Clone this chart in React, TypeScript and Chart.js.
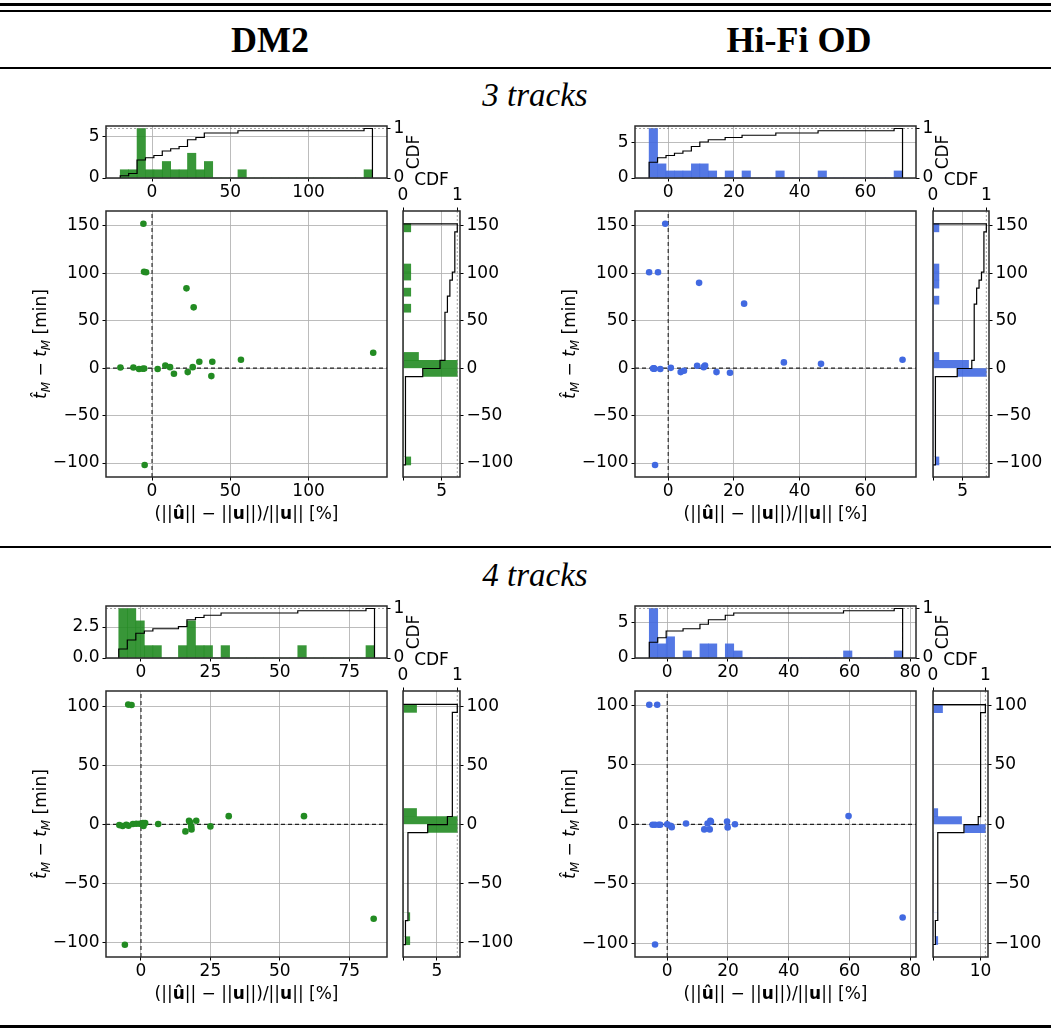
import React, { useEffect, useRef } from 'react';
import { Chart, registerables } from 'chart.js';

Chart.register(...registerables);

/* ====================== DATA ====================== */
// ---- DM2, 3 tracks ----
const DM2_3_X = [-20.2, -11.9, -8.3, -6.0, -5.0, -5.5, -5.1, -3.8, -4.7, 3.6, 8.5, 11.5, 14.0, 22.0, 22.8, 26.0, 26.6, 30.2, 37.9, 38.5, 56.8, 141.3];
const DM2_3_Y = [0.7, 0.7, -1.0, -0.7, -0.5, 152.0, 101.4, 101.0, -102.0, -1.0, 2.8, 1.0, -6.0, 84.0, -4.2, 1.0, 64.0, 6.7, -8.4, 6.7, 8.8, 16.2];
const DM2_3_X_RANGE = [-29.4, 150.1];
const DM2_3_X_TICKS = [0, 50, 100];
const DM2_3_TOP_BINS = [-20.3, 140.8];
const DM2_3_TOP_COUNTS = [1, 1, 6, 1, 1, 2, 1, 1, 3, 1, 2, 0, 0, 0, 1, 0, 0, 0, 0, 0, 0, 0, 0, 0, 0, 0, 0, 0, 0, 1];
const DM2_3_TOP_MAX = 6.3;
const DM2_3_TOP_TICKS = [0, 5];
const DM2_3_TOP_LABELS = ['0', '5'];
const DM2_3_RIGHT_BINS = [-102, 152];
const DM2_3_RIGHT_COUNTS = [1, 0, 0, 0, 0, 0, 0, 0, 0, 0, 0, 7, 7, 2, 0, 0, 0, 0, 0, 1, 0, 1, 0, 1, 1, 0, 0, 0, 0, 1];
const DM2_3_RIGHT_MAX = 7.35;
const DM2_3_RIGHT_TICKS = [0, 5];
const DM2_3_RIGHT_LABELS = ['', '5'];

// ---- Hi-Fi OD, 3 tracks ----
const HIFI_3_X = [-5.8, -3.1, -0.9, 9.4, 23.1, -4.4, -4.3, -2.4, -4.0, 0.8, 3.8, 4.8, 8.8, 10.8, 11.2, 14.7, 18.8, 35.2, 46.5, 71.3, -4.6, -4.2];
const HIFI_3_Y = [101.0, 101.0, 152.0, 89.8, 67.9, -0.3, -0.5, -1.0, -102.0, 0.3, -4.2, -2.8, 2.5, 1.0, 2.8, -4.2, -4.9, 6.0, 4.5, 8.8, -0.4, -0.6];
const HIFI_3_X_RANGE = [-10.1, 75.4];
const HIFI_3_X_TICKS = [0, 20, 40, 60];
const HIFI_3_TOP_BINS = [-5.8, 71.3];
const HIFI_3_TOP_COUNTS = [7, 2, 1, 1, 1, 2, 2, 1, 0, 1, 0, 1, 0, 0, 0, 1, 0, 0, 0, 0, 1, 0, 0, 0, 0, 0, 0, 0, 0, 1];
const HIFI_3_TOP_MAX = 7.35;
const HIFI_3_TOP_TICKS = [0, 5];
const HIFI_3_TOP_LABELS = ['0', '5'];
const HIFI_3_RIGHT_BINS = [-102, 152];
const HIFI_3_RIGHT_COUNTS = [1, 0, 0, 0, 0, 0, 0, 0, 0, 0, 0, 9, 6, 1, 0, 0, 0, 0, 0, 0, 1, 0, 1, 1, 1, 0, 0, 0, 0, 1];
const HIFI_3_RIGHT_MAX = 9.45;
const HIFI_3_RIGHT_TICKS = [0, 5];
const HIFI_3_RIGHT_LABELS = ['', '5'];

const Y_RANGE_3 = [-114.7, 165.5];
const Y_TICKS_3 = [-100, -50, 0, 50, 100, 150];

// ---- DM2, 4 tracks ----
const DM2_4_X = [-4.6, -3.4, -5.8, -7.8, -6.6, -5.3, -4.5, -2.9, -1.7, -0.5, 0.7, 0.9, 1.5, 6.2, 16.0, 17.3, 17.6, 18.2, 18.1, 19.9, 25.0, 31.6, 58.7, 83.8];
const DM2_4_Y = [101.4, 101.0, -101.8, -0.6, -1.4, -0.3, -1.1, 0.3, 0.6, 0.6, 1.1, -1.4, 1.1, 0.3, -5.9, 3.1, 2.0, -4.2, -1.7, 3.1, -1.7, 7.0, 7.0, -79.8];
const DM2_4_X_RANGE = [-12.6, 88.6];
const DM2_4_Y_RANGE = [-112.2, 112.9];
const DM2_4_X_TICKS = [0, 25, 50, 75];
const DM2_4_TOP_BINS = [-8.0, 84.1];
const DM2_4_TOP_COUNTS = [4, 4, 3, 1, 1, 0, 0, 1, 3, 1, 1, 0, 1, 0, 0, 0, 0, 0, 0, 0, 0, 1, 0, 0, 0, 0, 0, 0, 0, 1];
const DM2_4_TOP_MAX = 4.2;
const DM2_4_TOP_TICKS = [0, 2.5];
const DM2_4_TOP_LABELS = ['0.0', '2.5'];
const DM2_4_RIGHT_BINS = [-101.8, 101.6];
const DM2_4_RIGHT_COUNTS = [1, 0, 0, 1, 0, 0, 0, 0, 0, 0, 0, 0, 0, 0, 8, 8, 2, 0, 0, 0, 0, 0, 0, 0, 0, 0, 0, 0, 0, 2];
const DM2_4_RIGHT_MAX = 8.4;
const DM2_4_RIGHT_TICKS = [0, 5];
const DM2_4_RIGHT_LABELS = ['', '5'];

// ---- Hi-Fi OD, 4 tracks ----
const HIFI_4_X = [-5.9, -3.3, -4.0, -4.8, -4.0, -2.8, -2.3, 0.0, 1.1, 1.5, 6.2, 12.2, 13.3, 14.0, 14.2, 14.4, 19.7, 19.9, 22.3, 59.7, 77.5];
const HIFI_4_Y = [100.5, 100.5, -100.8, -0.3, -0.3, -0.3, -0.3, 0.2, -1.2, -2.3, 0.8, -4.2, 0.8, -4.2, 3.0, 2.2, 2.5, -2.5, 0.2, 7.0, -78.2];
const HIFI_4_X_RANGE = [-10.6, 81.9];
const HIFI_4_Y_RANGE = [-111.3, 112.0];
const HIFI_4_X_TICKS = [0, 20, 40, 60, 80];
const HIFI_4_TOP_BINS = [-5.9, 77.5];
const HIFI_4_TOP_COUNTS = [7, 2, 3, 0, 1, 0, 2, 2, 0, 2, 1, 0, 0, 0, 0, 0, 0, 0, 0, 0, 0, 0, 0, 1, 0, 0, 0, 0, 0, 1];
const HIFI_4_TOP_MAX = 7.35;
const HIFI_4_TOP_TICKS = [0, 5];
const HIFI_4_TOP_LABELS = ['0', '5'];
const HIFI_4_RIGHT_BINS = [-100.8, 100.5];
const HIFI_4_RIGHT_COUNTS = [1, 0, 0, 1, 0, 0, 0, 0, 0, 0, 0, 0, 0, 0, 11, 6, 1, 0, 0, 0, 0, 0, 0, 0, 0, 0, 0, 0, 0, 2];
const HIFI_4_RIGHT_MAX = 11.55;
const HIFI_4_RIGHT_TICKS = [0, 10];
const HIFI_4_RIGHT_LABELS = ['', '10'];

const Y_TICKS_4 = [-100, -50, 0, 50, 100];

const CDF_MAX = 1.05;
const CDF_TICKS = [0, 1];
const CDF_LABELS = ['0', '1'];

/* ====================== STYLE ====================== */
const TICK_FONT = { family: 'DejaVu Sans', size: 17, lineHeight: 1 };
const GRID_COLOR = 'rgba(176,176,176,0.85)';
const FRAME_COLOR = '#2a2a2a';
const GREEN = '#228b22';
const GREEN_BAR = 'rgba(34,139,34,0.9)';
const BLUE = '#4169e1';
const BLUE_BAR = 'rgba(65,105,225,0.9)';
const ZERO_COLOR = '#222';
const ONE_COLOR = 'rgba(120,120,120,0.7)';

type Seg = { t: string; f: string; dy?: number };
const F = (style: string, size = 17) => `${style} ${size}px "DejaVu Sans"`;
const X_TITLE: Seg[] = [
  { t: '(||', f: F('normal') },
  { t: '\u00fb', f: F('bold') },
  { t: '|| \u2212 ||', f: F('normal') },
  { t: 'u', f: F('bold') },
  { t: '||)/||', f: F('normal') },
  { t: 'u', f: F('bold') },
  { t: '|| [%]', f: F('normal') },
];
const Y_TITLE: Seg[] = [
  { t: 't\u0302', f: F('italic') },
  { t: 'M', f: F('italic', 12), dy: 3.5 },
  { t: ' \u2212 ', f: F('normal') },
  { t: 't', f: F('italic') },
  { t: 'M', f: F('italic', 12), dy: 3.5 },
  { t: ' [min]', f: F('normal') },
];
const CDF_TITLE: Seg[] = [{ t: 'CDF', f: F('normal') }];

/* ====================== HELPERS ====================== */
const fmt = (v: number) => (v < 0 ? '\u2212' + String(-v) : String(v));

function binEdges(range: number[], n: number) {
  return Array.from({ length: n + 1 }, (_, k) => range[0] + ((range[1] - range[0]) * k) / n);
}
function cumulative(counts: number[]) {
  const total = counts.reduce((s, c) => s + c, 0);
  let run = 0;
  return counts.map((c) => (run += c) / total);
}

function drawRich(ctx: CanvasRenderingContext2D, segs: Seg[], cx: number, cy: number, rot: number) {
  ctx.save();
  ctx.translate(cx, cy);
  ctx.rotate(rot);
  ctx.fillStyle = '#000';
  ctx.textBaseline = 'alphabetic';
  ctx.textAlign = 'left';
  let total = 0;
  const ws = segs.map((s) => {
    ctx.font = s.f;
    const w = ctx.measureText(s.t).width;
    total += w;
    return w;
  });
  let x = -total / 2;
  segs.forEach((s, i) => {
    ctx.font = s.f;
    ctx.fillText(s.t, x, 6 + (s.dy || 0));
    x += ws[i];
  });
  ctx.restore();
}

function axis(position: string, range: number[], ticks: number[], labels: string[], size: number, gridOn: boolean) {
  const horizontal = position === 'top' || position === 'bottom';
  return {
    type: 'linear',
    position,
    min: range[0],
    max: range[1],
    bounds: 'data',
    offset: false,
    beginAtZero: false,
    afterBuildTicks: (s: any) => {
      s.ticks = ticks.map((v) => ({ value: v }));
    },
    afterFit: (s: any) => {
      if (horizontal) s.height = size;
      else s.width = size;
    },
    ticks: {
      font: TICK_FONT,
      color: '#000',
      padding: 3,
      autoSkip: false,
      maxRotation: 0,
      minRotation: 0,
      includeBounds: false,
      callback: (_v: any, i: number) => labels[i],
    },
    grid: {
      offset: false,
      drawOnChartArea: gridOn,
      color: GRID_COLOR,
      lineWidth: 1,
      drawTicks: true,
      tickLength: 3.5,
      tickColor: '#000',
      tickWidth: 1,
    },
    border: { display: false },
  };
}

function extras(draw: (ctx: CanvasRenderingContext2D, a: any) => void) {
  return {
    id: 'extras',
    afterDraw(chart: any) {
      const ctx = chart.ctx as CanvasRenderingContext2D;
      const a = chart.chartArea;
      ctx.save();
      ctx.strokeStyle = FRAME_COLOR;
      ctx.lineWidth = 1.5;
      ctx.strokeRect(a.left, a.top, a.right - a.left, a.bottom - a.top);
      draw(ctx, a);
      ctx.restore();
    },
  };
}

const BASE_OPTS = {
  responsive: false,
  animation: false,
  events: [] as any[],
  plugins: { legend: { display: false }, tooltip: { enabled: false } },
};

interface Spec {
  color: string;
  barColor: string;
  xs: number[];
  ys: number[];
  xRange: number[];
  yRange: number[];
  xTicks: number[];
  yTicks: number[];
  topBins: number[];
  topCounts: number[];
  topMax: number;
  topTicks: number[];
  topLabels: string[];
  rightBins: number[];
  rightCounts: number[];
  rightMax: number;
  rightTicks: number[];
  rightLabels: string[];
}

function makeMain(canvas: HTMLCanvasElement, p: Spec) {
  const pts = p.xs.map((x, i) => ({ x, y: p.ys[i] }));
  return new Chart(canvas, {
    type: 'scatter',
    data: {
      datasets: [
        { data: pts, backgroundColor: p.color, borderWidth: 0, pointRadius: 3.3, order: 0 },
        {
          data: [{ x: p.xRange[0], y: 0 }, { x: p.xRange[1], y: 0 }],
          showLine: true, borderColor: ZERO_COLOR, borderWidth: 1.1, borderDash: [4, 3], pointRadius: 0, order: 1,
        },
        {
          data: [{ x: 0, y: p.yRange[0] }, { x: 0, y: p.yRange[1] }],
          showLine: true, borderColor: ZERO_COLOR, borderWidth: 1.1, borderDash: [4, 3], pointRadius: 0, order: 1,
        },
      ],
    },
    options: {
      ...BASE_OPTS,
      layout: { padding: { left: 0, top: 16, right: 16, bottom: 0 } },
      scales: {
        x: axis('bottom', p.xRange, p.xTicks, p.xTicks.map(fmt), 60, true),
        y: axis('left', p.yRange, p.yTicks, p.yTicks.map(fmt), 100, true),
      },
    } as any,
    plugins: [
      extras((ctx, a) => {
        drawRich(ctx, X_TITLE, (a.left + a.right) / 2, a.bottom + 36, 0);
        drawRich(ctx, Y_TITLE, a.left - 66, (a.top + a.bottom) / 2, -Math.PI / 2);
      }),
    ],
  } as any);
}

function makeTop(canvas: HTMLCanvasElement, p: Spec) {
  const n = p.topCounts.length;
  const e = binEdges(p.topBins, n);
  const bars = p.topCounts.map((c, k) => ({ x: (e[k] + e[k + 1]) / 2, y: c }));
  const cdf = cumulative(p.topCounts);
  const line: { x: number; y: number }[] = [{ x: e[0], y: 0 }];
  cdf.forEach((c, k) => line.push({ x: e[k], y: c }, { x: e[k + 1], y: c }));
  line.push({ x: e[n], y: 0 });
  return new Chart(canvas, {
    type: 'bar',
    data: {
      datasets: [
        {
          type: 'bar', data: bars, backgroundColor: p.barColor, borderWidth: 0,
          barPercentage: 1, categoryPercentage: 1, grouped: false, xAxisID: 'x', yAxisID: 'y', order: 2,
        },
        {
          type: 'scatter', data: line, showLine: true, borderColor: '#000', borderWidth: 1.2,
          pointRadius: 0, xAxisID: 'x', yAxisID: 'cdf', order: 0,
        },
        {
          type: 'scatter', data: [{ x: p.xRange[0], y: 1 }, { x: p.xRange[1], y: 1 }], showLine: true,
          borderColor: ONE_COLOR, borderWidth: 1, borderDash: [2, 2], pointRadius: 0, xAxisID: 'x', yAxisID: 'cdf', order: 1,
        },
      ],
    },
    options: {
      ...BASE_OPTS,
      layout: { padding: { left: 0, top: 16, right: 0, bottom: 0 } },
      scales: {
        x: axis('bottom', p.xRange, p.xTicks, p.xTicks.map(fmt), 30, true),
        y: axis('left', [0, p.topMax], p.topTicks, p.topLabels, 100, true),
        cdf: axis('right', [0, CDF_MAX], CDF_TICKS, CDF_LABELS, 45, false),
      },
    } as any,
    plugins: [
      extras((ctx, a) => {
        drawRich(ctx, CDF_TITLE, a.right + 26, (a.top + a.bottom) / 2, -Math.PI / 2);
      }),
    ],
  } as any);
}

function makeRight(canvas: HTMLCanvasElement, p: Spec) {
  const n = p.rightCounts.length;
  const e = binEdges(p.rightBins, n);
  const centers = p.rightCounts.map((_, k) => (e[k] + e[k + 1]) / 2);
  const bars = p.rightCounts.map((c, k) => ({ y: centers[k], x: c }));
  const cdf = cumulative(p.rightCounts);
  const mask = p.rightCounts.map((c, k) => ({ y: centers[k], x: centers[k] < 0 && c > 0 ? cdf[k] : 0 }));
  const line: { x: number; y: number }[] = [{ x: 0, y: e[0] }];
  cdf.forEach((c, k) => line.push({ x: c, y: e[k] }, { x: c, y: e[k + 1] }));
  line.push({ x: 0, y: e[n] });
  return new Chart(canvas, {
    type: 'bar',
    data: {
      datasets: [
        {
          type: 'bar', data: bars, backgroundColor: p.barColor, borderWidth: 0,
          barPercentage: 1, categoryPercentage: 1, grouped: false, xAxisID: 'x', yAxisID: 'y', order: 3,
        },
        {
          type: 'bar', data: mask, backgroundColor: '#ffffff', borderWidth: 0,
          barPercentage: 1, categoryPercentage: 1, grouped: false, xAxisID: 'cdf', yAxisID: 'y', order: 2,
        },
        {
          type: 'scatter', data: line, showLine: true, borderColor: '#000', borderWidth: 1.2,
          pointRadius: 0, xAxisID: 'cdf', yAxisID: 'y', order: 0,
        },
        {
          type: 'scatter', data: [{ x: 1, y: p.yRange[0] }, { x: 1, y: p.yRange[1] }], showLine: true,
          borderColor: ONE_COLOR, borderWidth: 1, borderDash: [2, 2], pointRadius: 0, xAxisID: 'cdf', yAxisID: 'y', order: 1,
        },
      ],
    },
    options: {
      ...BASE_OPTS,
      indexAxis: 'y',
      layout: { padding: { left: 16, top: 0, right: 0, bottom: 0 } },
      scales: {
        x: axis('bottom', [0, p.rightMax], p.rightTicks, p.rightLabels, 30, true),
        cdf: axis('top', [0, CDF_MAX], CDF_TICKS, CDF_LABELS, 45, false),
        y: axis('right', p.yRange, p.yTicks, p.yTicks.map(fmt), 60, true),
      },
    } as any,
    plugins: [
      extras((ctx, a) => {
        drawRich(ctx, CDF_TITLE, (a.left + a.right) / 2, a.top - 32, 0);
      }),
    ],
  } as any);
}

/* ====================== PANELS ====================== */
const SPEC_DM2_3: Spec = {
  color: GREEN, barColor: GREEN_BAR, xs: DM2_3_X, ys: DM2_3_Y, xRange: DM2_3_X_RANGE, yRange: Y_RANGE_3,
  xTicks: DM2_3_X_TICKS, yTicks: Y_TICKS_3, topBins: DM2_3_TOP_BINS, topCounts: DM2_3_TOP_COUNTS,
  topMax: DM2_3_TOP_MAX, topTicks: DM2_3_TOP_TICKS, topLabels: DM2_3_TOP_LABELS, rightBins: DM2_3_RIGHT_BINS,
  rightCounts: DM2_3_RIGHT_COUNTS, rightMax: DM2_3_RIGHT_MAX, rightTicks: DM2_3_RIGHT_TICKS, rightLabels: DM2_3_RIGHT_LABELS,
};
const SPEC_HIFI_3: Spec = {
  color: BLUE, barColor: BLUE_BAR, xs: HIFI_3_X, ys: HIFI_3_Y, xRange: HIFI_3_X_RANGE, yRange: Y_RANGE_3,
  xTicks: HIFI_3_X_TICKS, yTicks: Y_TICKS_3, topBins: HIFI_3_TOP_BINS, topCounts: HIFI_3_TOP_COUNTS,
  topMax: HIFI_3_TOP_MAX, topTicks: HIFI_3_TOP_TICKS, topLabels: HIFI_3_TOP_LABELS, rightBins: HIFI_3_RIGHT_BINS,
  rightCounts: HIFI_3_RIGHT_COUNTS, rightMax: HIFI_3_RIGHT_MAX, rightTicks: HIFI_3_RIGHT_TICKS, rightLabels: HIFI_3_RIGHT_LABELS,
};
const SPEC_DM2_4: Spec = {
  color: GREEN, barColor: GREEN_BAR, xs: DM2_4_X, ys: DM2_4_Y, xRange: DM2_4_X_RANGE, yRange: DM2_4_Y_RANGE,
  xTicks: DM2_4_X_TICKS, yTicks: Y_TICKS_4, topBins: DM2_4_TOP_BINS, topCounts: DM2_4_TOP_COUNTS,
  topMax: DM2_4_TOP_MAX, topTicks: DM2_4_TOP_TICKS, topLabels: DM2_4_TOP_LABELS, rightBins: DM2_4_RIGHT_BINS,
  rightCounts: DM2_4_RIGHT_COUNTS, rightMax: DM2_4_RIGHT_MAX, rightTicks: DM2_4_RIGHT_TICKS, rightLabels: DM2_4_RIGHT_LABELS,
};
const SPEC_HIFI_4: Spec = {
  color: BLUE, barColor: BLUE_BAR, xs: HIFI_4_X, ys: HIFI_4_Y, xRange: HIFI_4_X_RANGE, yRange: HIFI_4_Y_RANGE,
  xTicks: HIFI_4_X_TICKS, yTicks: Y_TICKS_4, topBins: HIFI_4_TOP_BINS, topCounts: HIFI_4_TOP_COUNTS,
  topMax: HIFI_4_TOP_MAX, topTicks: HIFI_4_TOP_TICKS, topLabels: HIFI_4_TOP_LABELS, rightBins: HIFI_4_RIGHT_BINS,
  rightCounts: HIFI_4_RIGHT_COUNTS, rightMax: HIFI_4_RIGHT_MAX, rightTicks: HIFI_4_RIGHT_TICKS, rightLabels: HIFI_4_RIGHT_LABELS,
};

// plot-area rectangles [left, top, right, bottom] in page pixels
type Box = { main: number[]; top: number[]; right: number[] };
const BOX_DM2_3: Box = { main: [106, 211, 387, 477], top: [106, 126, 387, 178], right: [403, 211, 460, 477] };
const BOX_HIFI_3: Box = { main: [635, 211, 916, 477], top: [635, 126, 916, 178], right: [933, 211, 989, 477] };
const BOX_DM2_4: Box = { main: [106, 691, 387, 957], top: [106, 606, 387, 658], right: [403, 691, 460, 957] };
const BOX_HIFI_4: Box = { main: [635, 691, 916, 957], top: [635, 606, 916, 658], right: [933, 691, 988, 957] };

function CanvasAt({ dim, cref }: { dim: { left: number; top: number; w: number; h: number }; cref: any }) {
  return (
    <canvas
      ref={cref}
      width={dim.w}
      height={dim.h}
      style={{ position: 'absolute', left: dim.left, top: dim.top, width: dim.w, height: dim.h }}
    />
  );
}

function Panel({ spec, box }: { spec: Spec; box: Box }) {
  const mainRef = useRef<HTMLCanvasElement>(null);
  const topRef = useRef<HTMLCanvasElement>(null);
  const rightRef = useRef<HTMLCanvasElement>(null);
  useEffect(() => {
    const charts = [
      makeMain(mainRef.current!, spec),
      makeTop(topRef.current!, spec),
      makeRight(rightRef.current!, spec),
    ];
    return () => charts.forEach((c) => c.destroy());
  }, [spec]);
  const [ml, mt, mr, mb] = box.main;
  const [tl, tt, tr, tb] = box.top;
  const [rl, rt, rr, rb] = box.right;
  const mainDim = { left: ml - 100, top: mt - 16, w: mr - ml + 116, h: mb - mt + 76 };
  const topDim = { left: tl - 100, top: tt - 16, w: tr - tl + 145, h: tb - tt + 46 };
  const rightDim = { left: rl - 16, top: rt - 45, w: rr - rl + 76, h: rb - rt + 75 };
  return (
    <>
      <CanvasAt dim={topDim} cref={topRef} />
      <CanvasAt dim={rightDim} cref={rightRef} />
      <CanvasAt dim={mainDim} cref={mainRef} />
    </>
  );
}

const RULES = [
  { y: 3, h: 3 },
  { y: 10, h: 2 },
  { y: 67, h: 2 },
  { y: 546, h: 2 },
  { y: 1025, h: 3 },
];

const HEAD = (cx: number, top: number): React.CSSProperties => ({
  position: 'absolute', left: cx - 200, width: 400, top, textAlign: 'center',
  font: 'bold 36px "Liberation Serif"', lineHeight: '36px', color: '#000', whiteSpace: 'nowrap',
});
const SECTION = (cx: number, top: number): React.CSSProperties => ({
  position: 'absolute', left: cx - 200, width: 400, top, textAlign: 'center',
  font: 'italic 33px "Liberation Serif"', lineHeight: '33px', color: '#000', whiteSpace: 'nowrap',
});

export default function App() {
  return (
    <div style={{ position: 'absolute', left: 0, top: 0, width: 1051, height: 1030, background: '#fff', overflow: 'hidden' }}>
      {RULES.map((r, i) => (
        <div key={i} style={{ position: 'absolute', left: 0, width: 1051, top: r.y, height: r.h, background: '#000' }} />
      ))}
      <div style={HEAD(270, 22)}>DM2</div>
      <div style={HEAD(799, 22)}>Hi-Fi OD</div>
      <div style={SECTION(535, 79)}>3 tracks</div>
      <div style={SECTION(535, 559)}>4 tracks</div>
      <Panel spec={SPEC_DM2_3} box={BOX_DM2_3} />
      <Panel spec={SPEC_HIFI_3} box={BOX_HIFI_3} />
      <Panel spec={SPEC_DM2_4} box={BOX_DM2_4} />
      <Panel spec={SPEC_HIFI_4} box={BOX_HIFI_4} />
    </div>
  );
}
